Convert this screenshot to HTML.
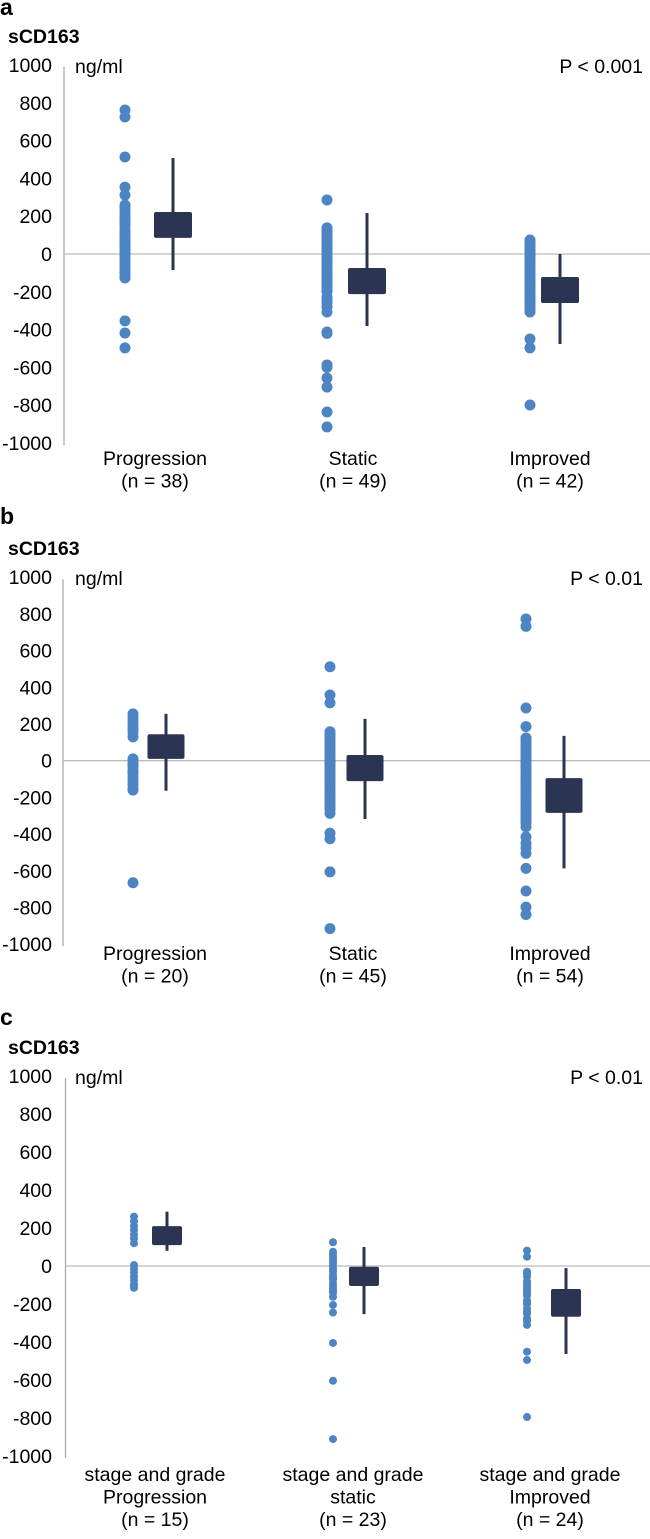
<!DOCTYPE html>
<html><head><meta charset="utf-8"><style>
html,body{margin:0;padding:0;background:#fff;}
svg{display:block;font-family:"Liberation Sans",Arial,sans-serif;}
</style></head><body>
<svg id="chart" width="650" height="1539" viewBox="0 0 650 1539" xmlns="http://www.w3.org/2000/svg"></svg>
<script>
// ---- data ----
const ticks = [1000,800,600,400,200,0,-200,-400,-600,-800,-1000];
const tickLabels = ["1000","800","600","400","200","0","-200","-400","-600","-800","-1000"];

const aCategories = [["Progression","(n = 38)"],["Static","(n = 49)"],["Improved","(n = 42)"]];
const aProgression = [762,725,513,354,312,259,245,240,220,200,190,180,165,150,130,120,110,95,80,70,60,50,40,30,15,0,-10,-25,-40,-55,-70,-85,-100,-115,-127,-354,-418,-497];
const aStatic = [286,138,130,120,115,100,95,85,70,65,55,40,35,25,10,5,0,-10,-20,-25,-40,-50,-55,-70,-80,-85,-100,-110,-115,-130,-140,-145,-160,-170,-175,-190,-200,-227,-245,-260,-280,-307,-413,-420,-587,-600,-656,-704,-836,-915];
const aImproved = [74,65,55,45,35,25,15,0,-5,-15,-25,-30,-45,-50,-60,-75,-80,-90,-105,-110,-120,-135,-140,-150,-165,-170,-180,-195,-200,-210,-225,-230,-240,-255,-260,-270,-285,-295,-307,-450,-497,-799];
const aBoxLow = [85,-212,-259];
const aBoxHigh = [222,-74,-122];
const aWhiskLow = [-85,-381,-476];
const aWhiskHigh = [508,217,0];

const bCategories = [["Progression","(n = 20)"],["Static","(n = 45)"],["Improved","(n = 54)"]];
const bProgression = [255,235,215,195,175,155,130,10,-10,-30,-50,-70,-90,-110,-130,-150,-160,-665,-20,-60];
const bStatic = [512,358,315,158,145,130,115,100,85,70,55,40,25,10,0,-10,-25,-40,-55,-70,-85,-100,-115,-130,-145,-160,-175,-190,-205,-220,-235,-250,-265,-287,-395,-425,-606,-915,-50,-120,-180,-240,-20,30,90];
const bImproved = [772,732,287,186,124,110,95,80,65,50,35,20,5,-10,-25,-40,-55,-70,-85,-100,-115,-130,-145,-160,-175,-190,-205,-220,-235,-250,-265,-280,-295,-310,-325,-340,-360,-415,-450,-475,-505,-587,-710,-798,-838,60,-30,-90,-150,-210,-270,-330,10,-120];
const bBoxLow = [10,-111,-284];
const bBoxHigh = [144,31,-95];
const bWhiskLow = [-164,-318,-587];
const bWhiskHigh = [255,228,135];

const cCategories = [["stage and grade","Progression","(n = 15)"],["stage and grade","static","(n = 23)"],["stage and grade","Improved","(n = 24)"]];
const cProgression = [260,235,210,190,165,145,120,5,-15,-35,-55,-75,-95,-105,-115];
const cStatic = [125,75,60,45,30,15,0,-15,-30,-50,-70,-90,-105,-120,-140,-162,-205,-245,-405,-604,-911,-60,-130];
const cImproved = [81,49,-30,-55,-80,-105,-130,-155,-180,-200,-225,-250,-275,-310,-451,-495,-795,-40,-95,-140,-190,-240,-290,-120];
const cBoxLow = [110,-105,-267];
const cBoxHigh = [210,-4,-121];
const cWhiskLow = [80,-253,-463];
const cWhiskHigh = [286,100,-11];

// ---- drawing ----
const svg = document.getElementById('chart');
const NS = 'http://www.w3.org/2000/svg';
const FS = 19.5;
function mk(tag, attrs, text){
  const e = document.createElementNS(NS, tag);
  for (const k in attrs) e.setAttribute(k, attrs[k]);
  if (text !== undefined) e.textContent = text;
  svg.appendChild(e);
  return e;
}

function drawPanel(p){
  const y = v => p.zero - v * p.k;
  let e;
  e = mk('text',{x:0,y:p.letterY,'font-size':23,'font-weight':'bold',fill:'#000'},p.letter);
  
  
  e = mk('text',{x:8,y:p.titleY,'font-size':FS,'font-weight':'bold',fill:'#000'},'sCD163');
  
  
  e = mk('text',{x:75,y:y(1000)+8,'font-size':FS,fill:'#000'},'ng/ml');
  
  
  e = mk('text',{x:643,y:y(1000)+8,'font-size':FS,fill:'#000','text-anchor':'end'},p.pval);
  
  
  ticks.forEach((t,i)=>{
    const tl = mk('text',{x:52,y:y(t)+7,'font-size':FS,fill:'#000','text-anchor':'end'},tickLabels[i]);
    
    
  });
  e = mk('line',{x1:p.axisX,x2:p.axisX,y1:y(1000)+2,y2:y(-1000)+2,stroke:'#aaa','stroke-width':1.3});
  
  
  e = mk('line',{x1:p.axisX,x2:650,y1:y(0),y2:y(0),stroke:'#bbb','stroke-width':1.3});
  
  
  p.series.forEach((s,i)=>{
    s.forEach(v=>{
      const c = mk('circle',{cx:p.dotX[i],cy:y(v),r:p.r,fill:'#4d84c4'});
      
      
    });
    const w = mk('line',{x1:p.boxX[i],x2:p.boxX[i],y1:y(p.wh[i]),y2:y(p.wl[i]),stroke:'#2b3553','stroke-width':3});
    
    
    const b = mk('rect',{x:p.boxX[i]-p.bw/2,y:y(p.bh[i]),width:p.bw,height:y(p.bl[i])-y(p.bh[i]),rx:2,fill:'#2b3553'});
    
    
    p.cats[i].forEach((line,j)=>{
      const t = mk('text',{x:p.labelX[i],y:p.labelY+j*22.5,'font-size':FS,fill:'#000','text-anchor':'middle'},line);
      
      
    });
  });
}

drawPanel({letter:'a',letterY:15,titleY:43,pval:'P < 0.001',zero:254,k:0.189,axisX:64,r:5.5,bw:38,
  dotX:[125,327,530],boxX:[173,367,560],labelX:[155,353,550],labelY:465,cats:aCategories,
  series:[aProgression,aStatic,aImproved],bl:aBoxLow,bh:aBoxHigh,wl:aWhiskLow,wh:aWhiskHigh});
drawPanel({letter:'b',letterY:524,titleY:555,pval:'P < 0.01',zero:760.7,k:0.1835,axisX:63,r:5.5,bw:37,
  dotX:[133,330,526],boxX:[166,365,564],labelX:[155,353,550],labelY:960,cats:bCategories,
  series:[bProgression,bStatic,bImproved],bl:bBoxLow,bh:bBoxHigh,wl:bWhiskLow,wh:bWhiskHigh});
drawPanel({letter:'c',letterY:1025,titleY:1054,pval:'P < 0.01',zero:1266,k:0.19,axisX:65.5,r:4,bw:30,
  dotX:[134,333,527],boxX:[167,364,566],labelX:[155,353,550],labelY:1481,cats:cCategories,
  series:[cProgression,cStatic,cImproved],bl:cBoxLow,bh:cBoxHigh,wl:cWhiskLow,wh:cWhiskHigh});
</script>
</body></html>
